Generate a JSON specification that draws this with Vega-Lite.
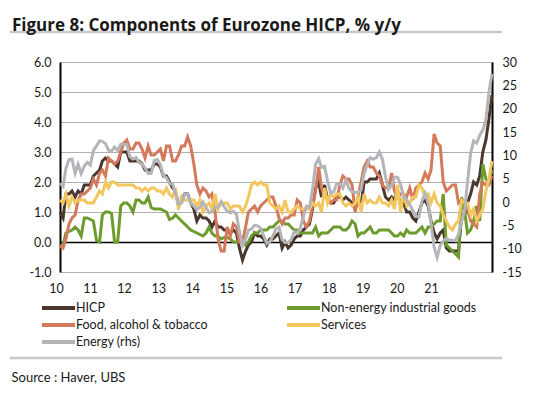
{
"$schema": "https://vega.github.io/schema/vega-lite/v6.json",
"width": 432, "height": 210,
"autosize": {"type": "none"},
"padding": {"left": 60, "top": 62, "right": 66, "bottom": 127},
"background": "white",
"config": {"font": "Lato", "view": {"stroke": null}},
"title": {"text": "Figure 8: Components of Eurozone HICP, % y/y", "anchor": "start", "frame": "group", "dx": -48, "offset": -4, "fontSize": 17, "fontWeight": "bold", "color": "#1a1a1a", "font": "Open Sans"},
"data": {"values": [
{"d":"2010-01","h":1.0,"n":-0.2,"f":-0.1,"s":1.4,"e":4.0},
{"d":"2010-02","h":0.8,"n":-0.1,"f":-0.2,"s":1.3,"e":3.3},
{"d":"2010-03","h":1.6,"n":0.3,"f":0.1,"s":1.6,"e":7.2},
{"d":"2010-04","h":1.6,"n":0.35,"f":0.6,"s":1.2,"e":9.1},
{"d":"2010-05","h":1.7,"n":0.4,"f":0.8,"s":1.5,"e":9.2},
{"d":"2010-06","h":1.5,"n":0.5,"f":0.9,"s":1.3,"e":6.2},
{"d":"2010-07","h":1.7,"n":0.4,"f":1.4,"s":1.4,"e":8.1},
{"d":"2010-08","h":1.6,"n":0.2,"f":1.6,"s":1.4,"e":6.1},
{"d":"2010-09","h":1.9,"n":0.8,"f":1.6,"s":1.4,"e":7.7},
{"d":"2010-10","h":1.9,"n":0.8,"f":1.7,"s":1.3,"e":8.5},
{"d":"2010-11","h":1.9,"n":0.75,"f":1.8,"s":1.3,"e":7.9},
{"d":"2010-12","h":2.2,"n":0.7,"f":2.1,"s":1.3,"e":11.0},
{"d":"2011-01","h":2.3,"n":0.05,"f":1.9,"s":1.5,"e":12.0},
{"d":"2011-02","h":2.4,"n":0.0,"f":2.3,"s":1.7,"e":13.1},
{"d":"2011-03","h":2.7,"n":0.9,"f":2.4,"s":1.6,"e":13.0},
{"d":"2011-04","h":2.8,"n":1.0,"f":2.2,"s":2.0,"e":12.5},
{"d":"2011-05","h":2.7,"n":1.0,"f":2.8,"s":1.8,"e":11.1},
{"d":"2011-06","h":2.7,"n":0.95,"f":2.7,"s":2.0,"e":10.9},
{"d":"2011-07","h":2.6,"n":0.0,"f":2.6,"s":2.0,"e":11.8},
{"d":"2011-08","h":2.5,"n":0.0,"f":2.7,"s":1.9,"e":11.0},
{"d":"2011-09","h":3.0,"n":1.2,"f":3.0,"s":1.9,"e":12.4},
{"d":"2011-10","h":3.0,"n":1.3,"f":3.3,"s":1.9,"e":12.4},
{"d":"2011-11","h":3.0,"n":1.3,"f":3.4,"s":1.9,"e":12.3},
{"d":"2011-12","h":2.7,"n":1.2,"f":3.1,"s":1.9,"e":9.7},
{"d":"2012-01","h":2.7,"n":1.0,"f":3.1,"s":1.9,"e":9.2},
{"d":"2012-02","h":2.7,"n":1.4,"f":3.3,"s":1.8,"e":9.5},
{"d":"2012-03","h":2.7,"n":1.4,"f":3.3,"s":1.8,"e":8.5},
{"d":"2012-04","h":2.6,"n":1.3,"f":3.1,"s":1.7,"e":8.1},
{"d":"2012-05","h":2.4,"n":1.3,"f":2.8,"s":1.8,"e":7.3},
{"d":"2012-06","h":2.4,"n":1.5,"f":3.2,"s":1.7,"e":6.1},
{"d":"2012-07","h":2.4,"n":1.15,"f":2.9,"s":1.8,"e":6.1},
{"d":"2012-08","h":2.6,"n":1.1,"f":2.9,"s":1.8,"e":8.9},
{"d":"2012-09","h":2.6,"n":1.1,"f":3.0,"s":1.7,"e":9.1},
{"d":"2012-10","h":2.5,"n":1.1,"f":3.1,"s":1.7,"e":8.0},
{"d":"2012-11","h":2.2,"n":1.05,"f":2.7,"s":1.6,"e":5.7},
{"d":"2012-12","h":2.2,"n":1.0,"f":3.2,"s":1.8,"e":5.2},
{"d":"2013-01","h":2.0,"n":0.75,"f":3.2,"s":1.6,"e":3.9},
{"d":"2013-02","h":1.8,"n":0.8,"f":2.7,"s":1.5,"e":3.9},
{"d":"2013-03","h":1.7,"n":0.9,"f":2.7,"s":1.8,"e":1.7},
{"d":"2013-04","h":1.2,"n":0.8,"f":2.9,"s":1.1,"e":-0.4},
{"d":"2013-05","h":1.4,"n":0.7,"f":3.2,"s":1.5,"e":-0.2},
{"d":"2013-06","h":1.6,"n":0.6,"f":3.2,"s":1.4,"e":1.6},
{"d":"2013-07","h":1.6,"n":0.5,"f":3.5,"s":1.4,"e":1.6},
{"d":"2013-08","h":1.3,"n":0.4,"f":3.2,"s":1.4,"e":-0.3},
{"d":"2013-09","h":1.1,"n":0.35,"f":2.6,"s":1.4,"e":-0.9},
{"d":"2013-10","h":0.7,"n":0.3,"f":1.9,"s":1.2,"e":-1.7},
{"d":"2013-11","h":0.9,"n":0.25,"f":1.6,"s":1.4,"e":-1.1},
{"d":"2013-12","h":0.8,"n":0.2,"f":1.8,"s":1.0,"e":0.0},
{"d":"2014-01","h":0.8,"n":0.3,"f":1.7,"s":1.2,"e":-1.2},
{"d":"2014-02","h":0.7,"n":0.5,"f":1.5,"s":1.3,"e":-2.3},
{"d":"2014-03","h":0.5,"n":0.3,"f":1.6,"s":1.1,"e":-2.1},
{"d":"2014-04","h":0.7,"n":0.2,"f":1.0,"s":1.6,"e":-1.2},
{"d":"2014-05","h":0.5,"n":0.2,"f":0.1,"s":1.1,"e":-1.1},
{"d":"2014-06","h":0.5,"n":0.1,"f":-0.3,"s":1.3,"e":0.1},
{"d":"2014-07","h":0.4,"n":0.15,"f":-0.3,"s":1.3,"e":-1.0},
{"d":"2014-08","h":0.4,"n":0.15,"f":0.5,"s":1.3,"e":-2.0},
{"d":"2014-09","h":0.3,"n":0.1,"f":0.2,"s":1.1,"e":-2.3},
{"d":"2014-10","h":0.4,"n":0.0,"f":0.6,"s":1.2,"e":-2.0},
{"d":"2014-11","h":0.3,"n":0.0,"f":0.5,"s":1.2,"e":-2.6},
{"d":"2014-12","h":-0.2,"n":0.0,"f":0.0,"s":1.2,"e":-6.3},
{"d":"2015-01","h":-0.6,"n":0.1,"f":0.0,"s":1.0,"e":-9.3},
{"d":"2015-02","h":-0.3,"n":-0.1,"f":0.5,"s":1.2,"e":-7.9},
{"d":"2015-03","h":-0.1,"n":0.0,"f":1.0,"s":1.5,"e":-6.0},
{"d":"2015-04","h":0.0,"n":0.2,"f":1.1,"s":1.9,"e":-5.8},
{"d":"2015-05","h":0.3,"n":0.3,"f":1.2,"s":2.0,"e":-5.0},
{"d":"2015-06","h":0.2,"n":0.3,"f":1.0,"s":1.9,"e":-5.1},
{"d":"2015-07","h":0.2,"n":0.4,"f":1.2,"s":2.0,"e":-5.6},
{"d":"2015-08","h":0.1,"n":0.4,"f":1.3,"s":1.9,"e":-7.2},
{"d":"2015-09","h":-0.1,"n":0.4,"f":1.4,"s":1.9,"e":-8.9},
{"d":"2015-10","h":0.1,"n":0.5,"f":1.5,"s":1.3,"e":-8.5},
{"d":"2015-11","h":0.1,"n":0.5,"f":1.5,"s":1.2,"e":-7.3},
{"d":"2015-12","h":0.2,"n":0.6,"f":1.2,"s":1.1,"e":-5.8},
{"d":"2016-01","h":0.3,"n":0.7,"f":0.8,"s":1.2,"e":-5.4},
{"d":"2016-02","h":-0.2,"n":0.7,"f":0.6,"s":1.0,"e":-8.1},
{"d":"2016-03","h":0.0,"n":0.6,"f":0.8,"s":1.4,"e":-8.7},
{"d":"2016-04","h":-0.2,"n":0.6,"f":0.8,"s":1.0,"e":-8.7},
{"d":"2016-05","h":-0.1,"n":0.5,"f":0.9,"s":1.0,"e":-8.1},
{"d":"2016-06","h":0.1,"n":0.4,"f":0.9,"s":1.1,"e":-6.4},
{"d":"2016-07","h":0.2,"n":0.4,"f":1.4,"s":1.2,"e":-6.7},
{"d":"2016-08","h":0.2,"n":0.3,"f":1.3,"s":1.1,"e":-5.6},
{"d":"2016-09","h":0.4,"n":0.3,"f":0.7,"s":1.1,"e":-3.0},
{"d":"2016-10","h":0.5,"n":0.3,"f":0.5,"s":1.1,"e":-0.9},
{"d":"2016-11","h":0.6,"n":0.3,"f":0.7,"s":1.1,"e":-1.1},
{"d":"2016-12","h":1.1,"n":0.3,"f":1.2,"s":1.3,"e":2.6},
{"d":"2017-01","h":1.8,"n":0.5,"f":1.7,"s":1.2,"e":8.1},
{"d":"2017-02","h":2.0,"n":0.2,"f":2.5,"s":1.3,"e":9.3},
{"d":"2017-03","h":1.5,"n":0.3,"f":1.8,"s":1.0,"e":7.4},
{"d":"2017-04","h":1.9,"n":0.3,"f":1.5,"s":1.8,"e":7.6},
{"d":"2017-05","h":1.4,"n":0.3,"f":1.5,"s":1.3,"e":4.5},
{"d":"2017-06","h":1.3,"n":0.4,"f":1.3,"s":1.6,"e":1.9},
{"d":"2017-07","h":1.3,"n":0.5,"f":1.4,"s":1.5,"e":2.2},
{"d":"2017-08","h":1.5,"n":0.5,"f":1.4,"s":1.6,"e":4.0},
{"d":"2017-09","h":1.5,"n":0.5,"f":1.9,"s":1.6,"e":3.9},
{"d":"2017-10","h":1.4,"n":0.4,"f":2.2,"s":1.3,"e":3.0},
{"d":"2017-11","h":1.5,"n":0.4,"f":2.1,"s":1.2,"e":4.7},
{"d":"2017-12","h":1.4,"n":0.5,"f":2.1,"s":1.3,"e":2.9},
{"d":"2018-01","h":1.3,"n":0.7,"f":1.9,"s":1.2,"e":2.2},
{"d":"2018-02","h":1.1,"n":0.6,"f":1.0,"s":1.3,"e":2.1},
{"d":"2018-03","h":1.4,"n":0.2,"f":1.5,"s":1.5,"e":2.0},
{"d":"2018-04","h":1.2,"n":0.3,"f":2.0,"s":1.0,"e":2.6},
{"d":"2018-05","h":2.0,"n":0.3,"f":2.5,"s":1.6,"e":6.1},
{"d":"2018-06","h":2.0,"n":0.4,"f":2.7,"s":1.3,"e":8.0},
{"d":"2018-07","h":2.1,"n":0.5,"f":2.5,"s":1.4,"e":9.5},
{"d":"2018-08","h":2.1,"n":0.3,"f":2.5,"s":1.3,"e":9.2},
{"d":"2018-09","h":2.1,"n":0.3,"f":2.3,"s":1.3,"e":9.5},
{"d":"2018-10","h":2.3,"n":0.4,"f":2.2,"s":1.5,"e":10.7},
{"d":"2018-11","h":1.9,"n":0.4,"f":1.9,"s":1.3,"e":9.1},
{"d":"2018-12","h":1.5,"n":0.4,"f":1.8,"s":1.3,"e":5.5},
{"d":"2019-01","h":1.4,"n":0.4,"f":1.8,"s":1.2,"e":2.7},
{"d":"2019-02","h":1.5,"n":0.3,"f":2.3,"s":1.4,"e":3.6},
{"d":"2019-03","h":1.4,"n":0.2,"f":1.7,"s":1.1,"e":5.3},
{"d":"2019-04","h":1.7,"n":0.2,"f":1.5,"s":1.9,"e":5.3},
{"d":"2019-05","h":1.2,"n":0.3,"f":1.6,"s":1.0,"e":3.8},
{"d":"2019-06","h":1.3,"n":0.2,"f":1.6,"s":1.6,"e":1.1},
{"d":"2019-07","h":1.0,"n":0.4,"f":1.5,"s":1.2,"e":0.5},
{"d":"2019-08","h":1.0,"n":0.3,"f":1.8,"s":1.3,"e":-0.6},
{"d":"2019-09","h":0.8,"n":0.3,"f":1.4,"s":1.5,"e":-1.8},
{"d":"2019-10","h":0.7,"n":0.3,"f":1.8,"s":1.5,"e":-3.1},
{"d":"2019-11","h":1.0,"n":0.4,"f":1.9,"s":1.9,"e":-3.2},
{"d":"2019-12","h":1.3,"n":0.5,"f":2.0,"s":1.8,"e":0.2},
{"d":"2020-01","h":1.4,"n":0.3,"f":2.3,"s":1.5,"e":1.9},
{"d":"2020-02","h":1.2,"n":0.5,"f":2.1,"s":1.6,"e":-0.3},
{"d":"2020-03","h":0.7,"n":0.5,"f":2.4,"s":1.3,"e":-4.5},
{"d":"2020-04","h":0.3,"n":0.6,"f":3.6,"s":1.6,"e":-9.7},
{"d":"2020-05","h":0.1,"n":0.7,"f":3.3,"s":1.3,"e":-11.9},
{"d":"2020-06","h":0.3,"n":0.7,"f":3.2,"s":1.2,"e":-9.3},
{"d":"2020-07","h":0.4,"n":1.6,"f":2.0,"s":0.9,"e":-8.4},
{"d":"2020-08","h":-0.2,"n":-0.1,"f":1.7,"s":0.7,"e":-7.8},
{"d":"2020-09","h":-0.3,"n":-0.2,"f":1.8,"s":0.5,"e":-8.2},
{"d":"2020-10","h":-0.3,"n":-0.3,"f":1.9,"s":0.4,"e":-8.2},
{"d":"2020-11","h":-0.3,"n":-0.4,"f":1.9,"s":0.6,"e":-8.3},
{"d":"2020-12","h":-0.3,"n":-0.5,"f":1.3,"s":0.7,"e":-6.9},
{"d":"2021-01","h":0.9,"n":1.5,"f":1.4,"s":1.4,"e":-4.2},
{"d":"2021-02","h":0.9,"n":1.0,"f":1.3,"s":1.3,"e":-1.7},
{"d":"2021-03","h":1.3,"n":0.3,"f":1.1,"s":1.3,"e":4.3},
{"d":"2021-04","h":1.6,"n":0.4,"f":0.7,"s":0.9,"e":10.4},
{"d":"2021-05","h":2.0,"n":0.7,"f":0.6,"s":1.1,"e":13.1},
{"d":"2021-06","h":1.9,"n":1.2,"f":0.5,"s":0.7,"e":12.6},
{"d":"2021-07","h":2.2,"n":0.7,"f":1.6,"s":0.9,"e":14.3},
{"d":"2021-08","h":3.0,"n":2.6,"f":2.0,"s":1.1,"e":15.4},
{"d":"2021-09","h":3.4,"n":2.1,"f":1.9,"s":1.7,"e":17.6},
{"d":"2021-10","h":4.1,"n":2.0,"f":1.9,"s":2.1,"e":23.5},
{"d":"2021-11","h":4.9,"n":2.4,"f":2.2,"s":2.7,"e":27.5}
]},
"layer": [
  {"transform": [{"fold": ["h","n","f","s"], "as": ["k","v"]}],
   "mark": {"type": "line", "strokeWidth": 3},
   "encoding": {
    "x": {"field": "d", "type": "temporal",
      "scale": {"domain": [{"year":2010,"month":1,"date":1},{"year":2021,"month":11,"date":1}]},
      "axis": {"values": [{"year":2010,"month":1,"date":1},{"year":2010,"month":12,"date":7},{"year":2011,"month":11,"date":13},{"year":2012,"month":10,"date":20},{"year":2013,"month":9,"date":26},{"year":2014,"month":9,"date":2},{"year":2015,"month":8,"date":9},{"year":2016,"month":7,"date":15},{"year":2017,"month":6,"date":21},{"year":2018,"month":5,"date":28},{"year":2019,"month":5,"date":4},{"year":2020,"month":4,"date":10}],
        "labelExpr": "'' + (10 + round((datum.value - 1262304000000) / 29480000000))",
        "labelOffset": -4, "labelFlush": false, "labelOverlap": false, "labelBound": false,
        "domain": false, "ticks": false, "grid": false,
        "labelFontSize": 12.5, "labelColor": "#1a1a1a", "labelPadding": 10,
        "title": "Source : Haver, UBS", "titleAnchor": "start", "titleAlign": "left", "titleX": -49, "titleY": 105, "titleBaseline": "middle",
        "titleFontSize": 13, "titleFontWeight": "normal", "titleColor": "#1a1a1a"}},
    "y": {"field": "v", "type": "quantitative",
      "scale": {"domain": [-1, 6], "nice": false, "zero": false},
      "axis": {"orient": "left", "values": [-1,0,1,2,3,4,5,6], "title": null,
        "labelExpr": "datum.value < 0 ? '-' + format(-datum.value, '.1f') : format(datum.value, '.1f')",
        "labelOverlap": false,
        "ticks": false, "domainColor": "#000000", "domainWidth": 2,
        "grid": true,
        "gridColor": {"condition": {"test": "datum.value === 0", "value": "#000000"}, "value": "#b0b0b0"},
        "gridWidth": {"condition": {"test": "datum.value === 0", "value": 1.5}, "value": 1},
        "labelFontSize": 12.5, "labelColor": "#1a1a1a", "labelPadding": 9}},
    "color": {"field": "k", "type": "nominal",
      "scale": {"domain": ["h","f","e","n","s"], "range": ["#4a372d","#d4795b","#b5b5b9","#6e9b2e","#f3c75d"]},
      "legend": {"orient": "none", "legendX": -20, "legendY": 238.5, "columns": 2, "columnPadding": 77, "rowPadding": 2,
        "symbolType": "stroke", "symbolStrokeWidth": 4, "symbolSize": 1089, "clipHeight": 15,
        "labelFontSize": 12.5, "labelOffset": -1, "labelColor": "#1a1a1a", "labelLimit": 300, "title": null, "padding": 0,
        "labelExpr": "datum.label == 'h' ? 'HICP' : datum.label == 'n' ? 'Non-energy industrial goods' : datum.label == 'f' ? 'Food, alcohol & tobacco' : datum.label == 's' ? 'Services' : 'Energy (rhs)'"}}
   }},
 {"transform": [{"fold": ["e"], "as": ["k","v"]}],
  "mark": {"type": "line", "strokeWidth": 3},
  "encoding": {
   "x": {"field": "d", "type": "temporal", "axis": null},
   "y": {"field": "v", "type": "quantitative",
     "scale": {"domain": [-15, 30], "nice": false, "zero": false},
     "axis": {"orient": "right", "values": [-15,-10,-5,0,5,10,15,20,25,30], "title": null,
       "labelExpr": "datum.value < 0 ? '-' + format(-datum.value, 'd') : format(datum.value, 'd')",
       "labelOverlap": false,
       "ticks": false, "domainColor": "#000000", "domainWidth": 2, "grid": false,
       "labelFontSize": 12.5, "labelColor": "#1a1a1a", "labelPadding": 10}},
   "color": {"field": "k", "type": "nominal"}
  }},
 {"data": {"values": [{}]},
  "mark": {"type": "rule", "color": "#c9c9c9", "strokeWidth": 2.5},
  "encoding": {"x": {"datum": {"year":2008,"month":8,"date":17}, "axis": null}, "x2": {"datum": {"year":2022,"month":2,"date":10}},
    "y": {"datum": 7, "scale": {"domain": [-1, 6], "nice": false, "zero": false}, "axis": null}}},
 {"data": {"values": [{}]},
  "mark": {"type": "rule", "color": "#c9c9c9", "strokeWidth": 2.5},
  "encoding": {"x": {"datum": {"year":2008,"month":8,"date":17}, "axis": null}, "x2": {"datum": {"year":2022,"month":2,"date":10}},
    "y": {"datum": -3.87, "scale": {"domain": [-1, 6], "nice": false, "zero": false}, "axis": null}}}
],
"resolve": {"scale": {"y": "independent"}, "axis": {"x": "independent"}}
}
